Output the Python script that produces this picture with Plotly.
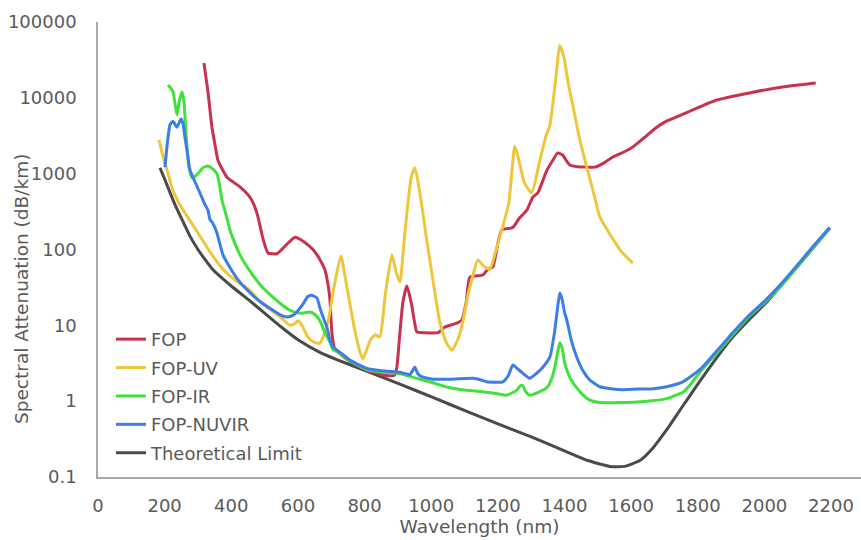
import plotly.graph_objects as go

# Spectral attenuation curves (wavelength in nm, attenuation in dB/km)
fop_nm = [318, 330, 342, 352, 360, 375, 387, 405, 426, 456, 470, 480, 495, 510, 537, 565, 591, 620,
          645, 665, 681, 690, 696, 702, 710, 750, 807, 860, 890, 897, 905, 915, 927, 940, 950, 957,
          980, 1020, 1041, 1077, 1092, 1105, 1116, 1155, 1170, 1185, 1200, 1212, 1245, 1265, 1287,
          1305, 1320, 1347, 1365, 1380, 1395, 1405, 1416, 1440, 1467, 1491, 1520, 1545, 1575, 1605,
          1640, 1677, 1705, 1737, 1806, 1855, 1955, 2055, 2154]
fop_db = [28800, 12000, 4100, 2300, 1500, 1100, 900, 780, 670, 490, 370, 270, 140, 90, 88, 115, 145, 125,
          100, 75, 54, 35, 22, 8, 5.0, 3.5, 2.55, 2.2, 2.2, 2.8, 7, 20, 33, 20, 11, 8.2,
          8.0, 8.0, 9.5, 10.7, 11.7, 20, 43, 46, 55, 59, 120, 181, 195, 260, 330,
          490, 560, 1100, 1500, 1880, 1750, 1500, 1300, 1230, 1220, 1220, 1400, 1660, 1900, 2250,
          3000, 4100, 4900, 5600, 7600, 9300, 11600, 13900, 15700]

uv_nm = [183, 195, 207, 225, 250, 276, 300, 342, 380, 420, 456, 480, 510, 546, 576, 590, 600, 612,
         630, 648, 666, 690, 710, 729, 748, 770, 786, 795, 808, 818, 832, 846, 862, 882, 895, 906,
         920, 940, 951, 965, 985, 1005, 1026, 1045, 1062, 1080, 1095, 1110, 1125, 1140, 1158, 1176,
         1195, 1212, 1233, 1251, 1265, 1280, 1302, 1326, 1345, 1356, 1372, 1386, 1398, 1412, 1425,
         1446, 1467, 1490, 1506, 1536, 1570, 1605]
uv_db = [2780, 1700, 1120, 600, 360, 240, 165, 85, 52, 37, 29, 22, 17, 13, 10, 10.5, 11.5, 10,
         7, 6.0, 5.8, 11, 35, 82, 30, 9, 4.5, 3.6, 5, 6.5, 7.5, 7, 25, 85, 50, 37,
         150, 900, 1200, 600, 150, 40, 11, 6, 4.7, 6.5, 11, 25, 45, 73, 60, 55,
         100, 181, 410, 2300, 1400, 750, 560, 1500, 3200, 4300, 15000, 49000, 35000, 15000, 8000,
         2800, 1220, 500, 270, 160, 95, 66]

ir_nm = [210, 218, 225, 232, 237, 244, 252, 258, 263, 268, 273, 282, 300, 315, 330, 345, 357, 365,
         372, 385, 396, 405, 426, 456, 490, 525, 550, 576, 600, 615, 636, 650, 666, 681, 696, 705,
         726, 760, 807, 860, 906, 957, 1005, 1056, 1100, 1155, 1200, 1227, 1245, 1257, 1268, 1275,
         1283, 1296, 1320, 1347, 1362, 1371, 1380, 1386, 1393, 1400, 1407, 1420, 1437, 1456, 1476,
         1500, 1536, 1570, 1605, 1650, 1707, 1730, 1755, 1780, 1806, 1836, 1870, 1905, 1950, 2006,
         2050, 2100, 2150, 2196]
ir_db = [14800, 13500, 12000, 8000, 6000, 9000, 11900, 9000, 4000, 2000, 1220, 880, 1000, 1200, 1260, 1150, 1000, 700,
         450, 280, 181, 140, 85, 52, 33, 23.5, 19, 15.8, 14.6, 14.5, 15, 14, 11.5, 8, 6.0, 4.8,
         4.3, 3.3, 2.6, 2.4, 2.3, 2.0, 1.75, 1.5, 1.4, 1.33, 1.25, 1.2, 1.3, 1.4, 1.6, 1.6,
         1.35, 1.2, 1.3, 1.5, 2.0, 2.8, 4.5, 5.9, 5.0, 3.3, 2.6, 1.9, 1.5, 1.2, 1.03,
         0.97, 0.95, 0.96, 0.97, 1.0, 1.08, 1.18, 1.3, 1.7, 2.4, 3.4, 5.0, 7.5, 12.5, 21,
         33, 60, 110, 190]

nuvir_nm = [201, 208, 216, 225, 237, 249, 255, 261, 267, 276, 290, 306, 320, 330, 336, 345, 357, 375,
            396, 420, 456, 490, 525, 550, 567, 585, 597, 615, 630, 640, 657, 666, 678, 687, 696, 705,
            726, 760, 807, 860, 906, 936, 946, 951, 960, 972, 1005, 1060, 1125, 1150, 1167, 1215,
            1232, 1245, 1258, 1272, 1296, 1315, 1335, 1356, 1370, 1380, 1386, 1393, 1400, 1407, 1420,
            1437, 1456, 1476, 1506, 1566, 1620, 1660, 1707, 1755, 1806, 1836, 1870, 1905, 1950, 2006,
            2050, 2100, 2150, 2196]
nuvir_db = [1220, 2500, 4400, 4900, 4100, 5250, 4600, 3000, 2040, 1120, 800, 556, 400, 330, 250, 220, 165, 85,
            58, 40, 27, 20, 15.8, 13.5, 12.9, 13.5, 15, 19, 24, 25, 23, 17, 12, 9.5, 6.5, 5.2,
            4.4, 3.4, 2.7, 2.5, 2.4, 2.25, 2.6, 2.8, 2.3, 2.1, 1.95, 1.95, 2.0, 1.9, 1.8, 1.8,
            2.2, 3.0, 2.7, 2.4, 2.0, 2.3, 2.8, 3.8, 8, 18, 26.7, 22, 15, 11.8, 6.5,
            3.8, 2.5, 1.9, 1.55, 1.42, 1.45, 1.45, 1.55, 1.8, 2.6, 3.6, 5.3, 8.0, 13, 22,
            35, 63, 115, 195]

limit_nm = [186, 200, 215, 230, 250, 276, 300, 320, 345, 400, 456, 500, 550, 606, 666, 726, 806, 906,
            1005, 1105, 1206, 1306, 1407, 1470, 1536, 1580, 1626, 1665, 1707, 1750, 1797, 1850, 1905,
            1955, 2006, 2100, 2196]
limit_db = [1190, 850, 580, 400, 260, 150, 100, 75, 54, 33, 21, 14.5, 9.5, 6.2, 4.4, 3.4, 2.5, 1.68,
            1.12, 0.74, 0.49, 0.33, 0.215, 0.165, 0.138, 0.138, 0.165, 0.24, 0.42, 0.8, 1.6, 3.4, 7.0,
            12, 20, 60, 190]

x_ticks = [0, 200, 400, 600, 800, 1000, 1200, 1400, 1600, 1800, 2000, 2200]
y_ticks = [0.1, 1, 10, 100, 1000, 10000, 100000]
y_tick_text = ["0.1", "1", "10", "100", "1000", "10000", "100000"]

TEXT = "#5a5a5a"
FONT = "DejaVu Sans"

# draw order: limit underneath, then FOP, UV, IR, NUVIR; legend order set by legendrank
series = [
    ("Theoretical Limit", limit_nm, limit_db, "#4a4a4a", 5),
    ("FOP", fop_nm, fop_db, "#c8324f", 1),
    ("FOP-UV", uv_nm, uv_db, "#eec63c", 2),
    ("FOP-IR", ir_nm, ir_db, "#3fe23b", 3),
    ("FOP-NUVIR", nuvir_nm, nuvir_db, "#3d7ee6", 4),
]

fig = go.Figure()
for name, xs, ys, color, rank in series:
    fig.add_trace(go.Scatter(
        x=xs, y=ys, name=name, mode="lines",
        line=dict(color=color, width=3, shape="spline", smoothing=0.5),
        legendrank=rank, legendgroup=name,
    ))

fig.update_layout(
    width=861, height=540,
    margin=dict(l=98, r=0, t=22, b=63),
    paper_bgcolor="white", plot_bgcolor="white",
    font=dict(family=FONT, size=18, color=TEXT),
    showlegend=True,
    legend=dict(
        x=0.017, y=0.343, xanchor="left", yanchor="top",
        bgcolor="rgba(0,0,0,0)", font=dict(size=18, color=TEXT),
        traceorder="grouped", tracegroupgap=2, itemwidth=30,
    ),
    annotations=[dict(
        text="Spectral Attenuation (dB/km)", textangle=-90,
        xref="paper", yref="paper", x=(21 - 98) / 763, y=(477 - 289) / 455,
        xanchor="center", yanchor="middle", showarrow=False,
        font=dict(family=FONT, size=18.5, color=TEXT),
    )],
)
fig.update_xaxes(
    range=[0, 2290], tickvals=x_ticks, showgrid=False, zeroline=False,
    showline=True, linecolor="#a8a8a8", linewidth=1.5,
    ticks="outside", ticklen=12, tickcolor="rgba(0,0,0,0)",
    tickfont=dict(size=18, color=TEXT),
    title=dict(text="Wavelength (nm)", font=dict(size=18.5, color=TEXT), standoff=2),
)
fig.update_yaxes(
    type="log", range=[-1, 5], tickvals=y_ticks, ticktext=y_tick_text,
    showgrid=False, zeroline=False,
    showline=True, linecolor="#a8a8a8", linewidth=1.5,
    ticks="outside", ticklen=16, tickcolor="rgba(0,0,0,0)",
    tickfont=dict(size=18, color=TEXT),
)

fig.write_html("out.html")
